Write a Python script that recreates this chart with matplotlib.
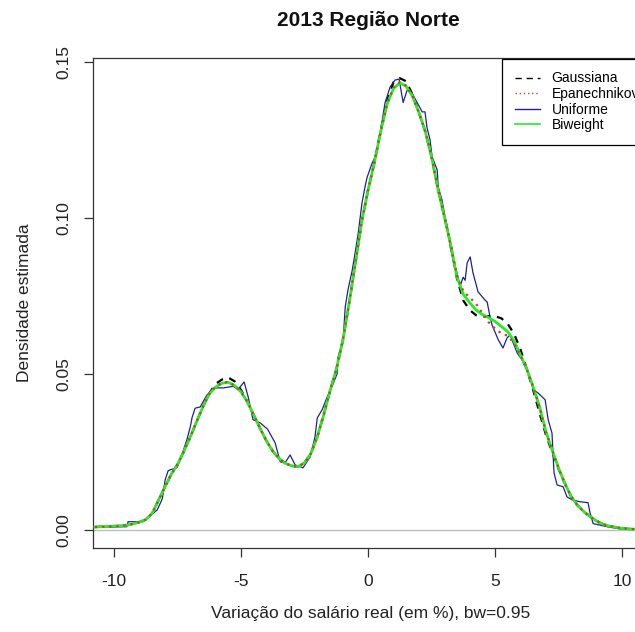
import matplotlib
matplotlib.use("Agg")
import matplotlib.pyplot as plt
from matplotlib.lines import Line2D

plt.rcParams["font.family"] = ["Liberation Sans", "DejaVu Sans"]

title = "2013 Região Norte"
x_label = "Variação do salário real (em %), bw=0.95"
y_label = "Densidade estimada"
series_names = ["Gaussiana", "Epanechnikov", "Uniforme", "Biweight"]

# Evaluation grid shared by the three smooth kernels
grid = [
    -10.75, -10.5, -10.25, -10.0, -9.75, -9.5, -9.25, -9.0, -8.75, -8.5,
    -8.25, -8.0, -7.75, -7.5, -7.25, -7.0, -6.75, -6.5, -6.25, -6.0,
    -5.75, -5.5, -5.25, -5.0, -4.75, -4.5, -4.25, -4.0, -3.75, -3.5,
    -3.25, -3.0, -2.75, -2.5, -2.25, -2.0, -1.75, -1.5, -1.25, -1.0,
    -0.75, -0.5, -0.25, 0.0, 0.25, 0.5, 0.75, 1.0, 1.25, 1.5,
    1.75, 2.0, 2.25, 2.5, 2.75, 3.0, 3.25, 3.5, 3.75, 4.0,
    4.25, 4.5, 4.75, 5.0, 5.25, 5.5, 5.75, 6.0, 6.25, 6.5,
    6.75, 7.0, 7.25, 7.5, 7.75, 8.0, 8.25, 8.5, 8.75, 9.0,
    9.25, 9.5, 9.75, 10.0, 10.25, 10.5,
]

biweight = [
    0.0009, 0.0010, 0.0011, 0.0012, 0.0013, 0.0015, 0.0019, 0.0025, 0.0033, 0.0053,
    0.0095, 0.0137, 0.0178, 0.0210, 0.0252, 0.0298, 0.0347, 0.0395, 0.0436, 0.0458,
    0.0470, 0.0473, 0.0462, 0.0442, 0.0410, 0.0368, 0.0325, 0.0285, 0.0252, 0.0228,
    0.0213, 0.0205, 0.0203, 0.0215, 0.0245, 0.0298, 0.0368, 0.0445, 0.0515, 0.0605,
    0.0725, 0.0855, 0.0988, 0.1090, 0.1178, 0.1278, 0.1365, 0.1415, 0.1433, 0.1422,
    0.1390, 0.1338, 0.1278, 0.1195, 0.1093, 0.1005, 0.0915, 0.0810, 0.0755, 0.0728,
    0.0705, 0.0690, 0.0680, 0.0668, 0.0652, 0.0635, 0.0605, 0.0560, 0.0515, 0.0458,
    0.0395, 0.0315, 0.0255, 0.0198, 0.0148, 0.0106, 0.0078, 0.0058, 0.0042, 0.0028,
    0.0018, 0.0012, 0.0008, 0.0005, 0.0003, 0.0002,
]

gaussian = [
    0.0009, 0.0010, 0.0011, 0.0012, 0.0013, 0.0015, 0.0019, 0.0025, 0.0033, 0.0053,
    0.0095, 0.0137, 0.0178, 0.0210, 0.0252, 0.0298, 0.0347, 0.0395, 0.0438, 0.0468,
    0.0482, 0.0488, 0.0476, 0.0448, 0.0410, 0.0368, 0.0325, 0.0285, 0.0252, 0.0228,
    0.0213, 0.0205, 0.0203, 0.0215, 0.0245, 0.0298, 0.0368, 0.0445, 0.0515, 0.0605,
    0.0725, 0.0855, 0.0988, 0.1090, 0.1178, 0.1282, 0.1375, 0.1435, 0.1448, 0.1438,
    0.1395, 0.1338, 0.1278, 0.1195, 0.1093, 0.1005, 0.0915, 0.0805, 0.0735, 0.0705,
    0.0688, 0.0683, 0.0685, 0.0685, 0.0678, 0.0660, 0.0628, 0.0578, 0.0515, 0.0448,
    0.0375, 0.0305, 0.0248, 0.0195, 0.0148, 0.0106, 0.0078, 0.0058, 0.0042, 0.0028,
    0.0018, 0.0012, 0.0008, 0.0005, 0.0003, 0.0002,
]

epanechnikov = [
    0.0009, 0.0010, 0.0011, 0.0012, 0.0013, 0.0015, 0.0019, 0.0025, 0.0033, 0.0053,
    0.0095, 0.0137, 0.0178, 0.0210, 0.0252, 0.0298, 0.0347, 0.0395, 0.0436, 0.0460,
    0.0472, 0.0474, 0.0463, 0.0442, 0.0410, 0.0368, 0.0325, 0.0285, 0.0252, 0.0228,
    0.0213, 0.0205, 0.0203, 0.0215, 0.0245, 0.0298, 0.0368, 0.0445, 0.0515, 0.0605,
    0.0725, 0.0855, 0.0988, 0.1090, 0.1178, 0.1278, 0.1365, 0.1418, 0.1436, 0.1424,
    0.1390, 0.1338, 0.1278, 0.1195, 0.1093, 0.1005, 0.0915, 0.0815, 0.0765, 0.0745,
    0.0725, 0.0695, 0.0665, 0.0645, 0.0630, 0.0622, 0.0598, 0.0560, 0.0515, 0.0458,
    0.0395, 0.0315, 0.0255, 0.0198, 0.0148, 0.0106, 0.0078, 0.0058, 0.0042, 0.0028,
    0.0018, 0.0012, 0.0008, 0.0005, 0.0003, 0.0002,
]

# Rectangular kernel estimate, traced at its own vertices
uniform_x = [
    -10.8, -9.5, -9.45, -8.86, -8.66, -8.3, -8.1, -7.99, -7.87, -7.52,
    -7.4, -7.13, -7.0, -6.93, -6.81, -6.61, -6.34, -6.02, -5.71, -5.31,
    -5.12, -4.88, -4.72, -4.53, -4.25, -3.96, -3.66, -3.46, -3.27, -3.07,
    -2.87, -2.56, -2.28, -2.09, -2.0, -1.81, -1.61, -1.42, -1.22, -1.18,
    -0.98, -0.9, -0.79, -0.63, -0.51, -0.39, -0.24, -0.12, -0.04, 0.16,
    0.28, 0.47, 0.67, 0.87, 1.06, 1.22, 1.38, 1.54, 1.73, 1.93,
    2.13, 2.24, 2.32, 2.44, 2.52, 2.72, 2.76, 2.91, 3.03, 3.15,
    3.23, 3.35, 3.5, 3.62, 3.74, 3.82, 3.9, 4.02, 4.13, 4.33,
    4.6, 4.69, 4.8, 4.88, 5.12, 5.31, 5.47, 5.59, 5.71, 5.87,
    6.06, 6.38, 6.5, 6.69, 6.97, 7.09, 7.24, 7.28, 7.32, 7.44,
    7.68, 7.83, 8.03, 8.35, 8.66, 8.74, 8.86, 9.41, 9.92, 10.5,
]
uniform_y = [
    0.0008, 0.0010, 0.0026, 0.0026, 0.0040, 0.0064, 0.0100, 0.0160, 0.0190, 0.0200,
    0.0224, 0.0290, 0.0330, 0.0360, 0.0390, 0.0394, 0.0433, 0.0455, 0.0455, 0.0460,
    0.0450, 0.0474, 0.0426, 0.0353, 0.0343, 0.0323, 0.0279, 0.0218, 0.0215, 0.0240,
    0.0208, 0.0199, 0.0234, 0.0298, 0.0359, 0.0385, 0.0426, 0.0460, 0.0500, 0.0555,
    0.0610, 0.0715, 0.0770, 0.0830, 0.0888, 0.0950, 0.1048, 0.1100, 0.1130, 0.1176,
    0.1196, 0.1270, 0.1370, 0.1420, 0.1442, 0.1445, 0.1370, 0.1410, 0.1400, 0.1370,
    0.1340, 0.1340, 0.1290, 0.1250, 0.1196, 0.1154, 0.1100, 0.1058, 0.1003, 0.0960,
    0.0907, 0.0865, 0.0824, 0.0780, 0.0810, 0.0800, 0.0856, 0.0875, 0.0824, 0.0763,
    0.0737, 0.0730, 0.0683, 0.0657, 0.0610, 0.0583, 0.0615, 0.0625, 0.0600, 0.0567,
    0.0545, 0.0490, 0.0449, 0.0439, 0.0417, 0.0353, 0.0310, 0.0247, 0.0183, 0.0144,
    0.0138, 0.0106, 0.0096, 0.0090, 0.0087, 0.0054, 0.0020, 0.0010, 0.0003, 0.0002,
]

x_ticks = [-10, -5, 0, 5, 10]
y_ticks = [0.00, 0.05, 0.10, 0.15]
y_tick_labels = ["0.00", "0.05", "0.10", "0.15"]

GAUSS_C = "black"
EPAN_C = "#C8402A"
UNIF_C = "#1F1F9A"
BIW_C = "#22EE22"
GAUSS_LS = (0, (3.2, 3.0))
EPAN_LS = (0, (1.0, 2.2))

W, H = 635, 632
fig = plt.figure(figsize=(W / 100, H / 100), dpi=100)
fig.patch.set_facecolor("white")

# plot box: left 93 px, top 58 px, bottom 548 px; right edge runs past the canvas
ax = fig.add_axes([93 / W, (H - 548) / H, (648 - 93) / W, (548 - 58) / H])
ax.set_xlim(-10.83, 11.02)
ax.set_ylim(-0.00582, 0.15127)

ax.axhline(0, color="#BEBEBE", lw=1.0, zorder=1)

ax.plot(grid, gaussian, color=GAUSS_C, lw=1.6, ls=GAUSS_LS, zorder=2)
ax.plot(uniform_x, uniform_y, color=UNIF_C, lw=0.9, zorder=3)
ax.plot(grid, biweight, color=BIW_C, lw=2.0, zorder=4)
ax.plot(grid, epanechnikov, color=EPAN_C, lw=1.6, ls=EPAN_LS, zorder=5)

for s in ax.spines.values():
    s.set_color("#333333")
    s.set_linewidth(0.9)

ax.set_xticks(x_ticks)
ax.set_xticklabels([str(t) for t in x_ticks])
ax.set_yticks(y_ticks)
ax.set_yticklabels(y_tick_labels, rotation=90, va="center")
ax.tick_params(axis="both", direction="out", length=6.5, width=0.9, color="#333333",
               labelsize=12.5, labelcolor="#222222")
ax.tick_params(axis="x", pad=12.5)
ax.tick_params(axis="y", pad=9.3)

ax.set_xlabel(x_label, fontsize=12.5, color="#222222", labelpad=12)
ax.set_ylabel(y_label, fontsize=12.5, color="#222222", labelpad=17.5)
fig.text(368 / W, 1 - 21 / H, title, ha="center", va="center",
         fontsize=15, fontweight="bold", color="#111111")

# legend keys are drawn with thin strokes
handles = [
    Line2D([], [], color=GAUSS_C, lw=1.0, ls=(0, (4.5, 3.5))),
    Line2D([], [], color=EPAN_C, lw=1.0, ls=(0, (1.0, 2.0))),
    Line2D([], [], color=UNIF_C, lw=1.0),
    Line2D([], [], color=BIW_C, lw=1.2),
]
leg = fig.legend(handles, series_names, loc="upper left",
                 bbox_to_anchor=(502 / W, 1 - 59 / H), bbox_transform=fig.transFigure,
                 borderaxespad=0.0, fancybox=False, framealpha=1.0,
                 edgecolor="black", fontsize=10, handlelength=1.8,
                 handletextpad=0.86, labelspacing=0.11, borderpad=0.9)
leg.get_frame().set_linewidth(0.9)

fig.savefig("out.png", dpi=100, facecolor="white")
